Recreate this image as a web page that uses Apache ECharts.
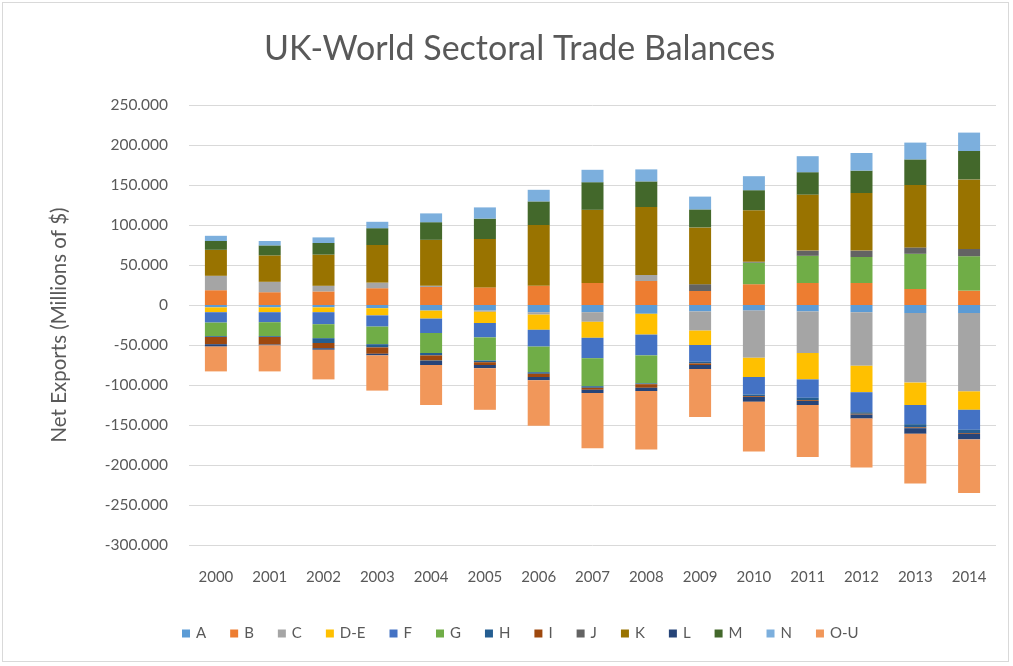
<!DOCTYPE html>
<html>
<head>
<meta charset="utf-8">
<script src="https://cdn.jsdelivr.net/npm/echarts@6/dist/echarts.min.js"></script>
<style>
  html, body { margin: 0; padding: 0; background: #ffffff; }
  #frame { position: absolute; left: 2px; top: 2px; width: 1007px; height: 660px; border: 1px solid #d9d9d9; box-sizing: border-box; }
  #chart { position: absolute; left: 0; top: 0; width: 1013px; height: 666px; }
</style>
</head>
<body>
<div id="frame"></div>
<div id="chart"></div>
<script>
// Years on the category axis
const years = ['2000','2001','2002','2003','2004','2005','2006','2007','2008','2009','2010','2011','2012','2013','2014'];

// Net exports by sector, millions of $
const secA  = [-3000,-3000,-3000,-4000,-7000,-7000,-9000,-9000,-11000,-8000,-7000,-8000,-9000,-10000,-10000];
const secB  = [18500,16000,17000,21000,22500,22000,24000,27500,30000,17500,26000,27500,27500,20000,18000];
const secC  = [18000,13000,7000,7000,1500,-1500,-3000,-12000,7500,-24000,-59000,-52000,-67000,-87000,-98000];
const secDE = [-6000,-6000,-6000,-9000,-10000,-14000,-19000,-20000,-26000,-18000,-24000,-33000,-33000,-28000,-23000];
const secF  = [-13000,-12500,-15000,-14000,-18000,-18000,-21000,-25500,-26000,-21000,-22000,-23000,-25000,-24000,-25000];
const secG  = [-17000,-17500,-17500,-22000,-25000,-29000,-32000,-35000,-35000,0,27000,34000,32500,44000,43000];
const secH  = [-1000,-1000,-6000,-4000,-3000,-2000,-2000,-2000,-1000,-2000,-2000,-3000,-2000,-4000,-4000];
const secI  = [-9000,-9500,-6500,-8000,-6000,-3500,-4000,-2500,-4500,-2000,-1000,-1000,-1000,-1000,-1000];
const secJ  = [0,0,0,0,-1000,0,0,0,0,8500,1000,6500,8000,8000,9000];
const secK  = [32500,33000,39000,47000,57500,60500,76000,91500,85000,71000,64500,70000,72000,78000,87000];
const secL  = [-3000,-1000,-2000,-2000,-5000,-4000,-4000,-4000,-4000,-5000,-6000,-5000,-5000,-7000,-7000];
const secM  = [11000,12500,14500,21000,22000,25500,29500,34500,32000,22500,25000,28000,28000,32000,35500];
const secN  = [6500,5500,7000,8000,11000,14000,14500,15500,15000,16000,17500,20000,22000,21000,23000];
const secOU = [-31000,-32500,-37000,-44000,-50000,-52000,-57000,-69000,-73000,-60000,-62000,-65000,-61000,-62000,-67000];

const sectorNames = ['A','B','C','D-E','F','G','H','I','J','K','L','M','N','O-U'];
const sectorValues = [secA, secB, secC, secDE, secF, secG, secH, secI, secJ, secK, secL, secM, secN, secOU];
const sectorColors = ['#5B9BD5','#ED7D31','#A5A5A5','#FFC000','#4472C4','#70AD47','#255E91','#9E480E','#636363','#997300','#264478','#43682B','#7CAFDD','#F1975A'];

// Value axis ticks: "250.000", "0", "-50.000"
function tickLabel(v) {
  if (v === 0) return '0';
  const digits = String(Math.abs(v)).replace(/\B(?=(\d{3})+(?!\d))/g, '.');
  return (v < 0 ? '-' : '') + digits;
}

const FONT = 'Lato, "Open Sans", sans-serif';
const TEXT = '#595959';

const chart = echarts.init(document.getElementById('chart'), null, { renderer: 'canvas' });
chart.setOption({
  animation: false,
  color: sectorColors,
  textStyle: { fontFamily: FONT, color: TEXT },
  title: {
    text: 'UK-World Sectoral Trade Balances',
    left: 259,
    top: 27,
    textStyle: { fontFamily: FONT, fontSize: 34, fontWeight: 'normal', color: TEXT }
  },
  legend: {
    data: sectorNames,
    left: 177,
    top: 621,
    icon: 'rect',
    itemWidth: 8,
    itemHeight: 8,
    itemGap: 24,
    textStyle: { fontFamily: FONT, fontSize: 15, color: TEXT, padding: [0, 0, 0, 1] }
  },
  grid: { left: 189, right: 17, top: 105, bottom: 121, containLabel: false },
  xAxis: {
    type: 'category',
    data: years,
    axisLine: { show: false, onZero: false },
    axisTick: { show: false },
    axisLabel: { fontFamily: FONT, fontSize: 15, color: TEXT, margin: 25 },
    splitLine: { show: false }
  },
  yAxis: {
    type: 'value',
    min: -300000,
    max: 250000,
    interval: 50000,
    name: 'Net Exports (Millions of $)',
    nameLocation: 'middle',
    nameGap: 119,
    nameTextStyle: { fontFamily: FONT, fontSize: 20.5, color: TEXT },
    axisLine: { show: false },
    axisTick: { show: false },
    axisLabel: { fontFamily: FONT, fontSize: 15.5, color: TEXT, margin: 21, formatter: tickLabel },
    splitLine: { lineStyle: { color: '#D9D9D9', width: 1 } }
  },
  series: sectorNames.map((name, i) => ({
    name: name,
    type: 'bar',
    stack: 'sectors',
    barWidth: 22,
    data: sectorValues[i],
    itemStyle: { color: sectorColors[i] }
  }))
});
</script>
</body>
</html>
